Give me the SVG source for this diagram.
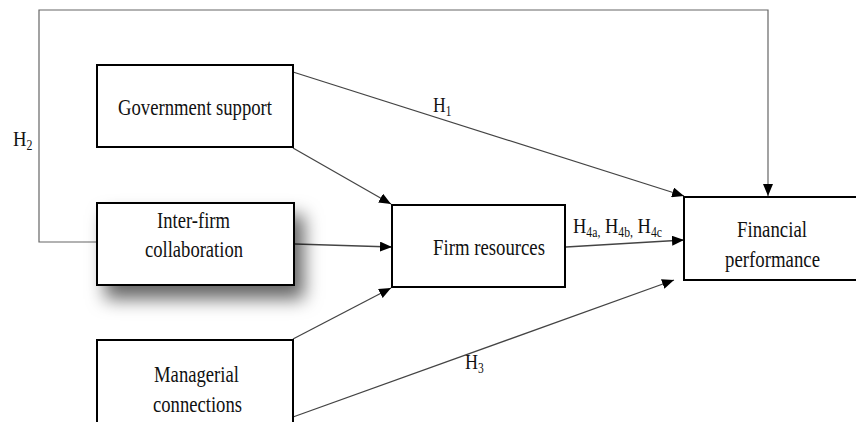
<svg xmlns="http://www.w3.org/2000/svg" width="856" height="422" viewBox="0 0 856 422">
<style>
.box{fill:#fff;stroke:#000;stroke-width:2}
.t{font-family:"Liberation Serif","Times New Roman",serif;font-size:24px;fill:#111}
.h{font-family:"Liberation Serif","Times New Roman",serif;font-size:22px;fill:#111}
.s{font-size:14px}
.c{fill:none;stroke:#444;stroke-width:1.3}
.fb{fill:none;stroke:#666;stroke-width:1.2}
</style>
<defs>
<marker id="arr" markerUnits="userSpaceOnUse" markerWidth="12" markerHeight="10" refX="12" refY="5" orient="auto">
<path d="M0,0 L12,5 L0,10 z" fill="#000"/>
</marker>
<filter id="sh" x="-30%" y="-40%" width="170%" height="200%">
<feDropShadow dx="9" dy="13" stdDeviation="9" flood-color="#000" flood-opacity="0.6"/>
</filter>
</defs>
<rect width="856" height="422" fill="#fff"/>
<g id="connectors">
<polyline class="fb" points="97,242 39,242 39,10 768,10 768,196" marker-end="url(#arr)"/>
<line class="c" x1="293" y1="72" x2="684" y2="196" marker-end="url(#arr)"/>
<line class="c" x1="293" y1="148" x2="391" y2="204" marker-end="url(#arr)"/>
<line class="c" x1="295" y1="244" x2="392" y2="247" marker-end="url(#arr)"/>
<line class="c" x1="293" y1="339" x2="391" y2="288" marker-end="url(#arr)"/>
<line class="c" x1="293" y1="417" x2="674" y2="280" marker-end="url(#arr)"/>
<line class="c" x1="566" y1="247" x2="684" y2="240" marker-end="url(#arr)"/>
<text class="h" transform="translate(433,112) scale(0.8,1)">H<tspan class="s" dy="4">1</tspan></text>
<text class="h" transform="translate(13,146) scale(0.85,1)">H<tspan class="s" dy="4">2</tspan></text>
<text class="h" transform="translate(465,369) scale(0.82,1)">H<tspan class="s" dy="4">3</tspan></text>
<text class="h" transform="translate(573,233) scale(0.84,1)">H<tspan class="s" dy="4">4a,</tspan><tspan dy="-4"> H</tspan><tspan class="s" dy="4">4b,</tspan><tspan dy="-4"> H</tspan><tspan class="s" dy="4">4c</tspan></text>
</g>
<g id="government-support">
<rect class="box" x="97" y="65" width="196" height="82"/>
<text class="t" x="118" y="115" textLength="154" lengthAdjust="spacingAndGlyphs">Government support</text>
</g>
<g id="inter-firm-collaboration">
<rect class="box" x="97" y="203" width="197" height="82" filter="url(#sh)"/>
<text class="t" x="157" y="228" textLength="73" lengthAdjust="spacingAndGlyphs">Inter-firm</text>
<text class="t" x="145" y="257" textLength="98" lengthAdjust="spacingAndGlyphs">collaboration</text>
</g>
<g id="managerial-connections">
<rect class="box" x="97" y="340" width="196" height="90"/>
<text class="t" x="154" y="382" textLength="85" lengthAdjust="spacingAndGlyphs">Managerial</text>
<text class="t" x="153" y="412" textLength="89" lengthAdjust="spacingAndGlyphs">connections</text>
</g>
<g id="firm-resources">
<rect class="box" x="392" y="205" width="173" height="82"/>
<text class="t" x="433" y="255" textLength="112" lengthAdjust="spacingAndGlyphs">Firm resources</text>
</g>
<g id="financial-performance">
<rect class="box" x="684" y="197" width="176" height="83"/>
<text class="t" x="737" y="237" textLength="70" lengthAdjust="spacingAndGlyphs">Financial</text>
<text class="t" x="725" y="267" textLength="95" lengthAdjust="spacingAndGlyphs">performance</text>
</g>
</svg>
